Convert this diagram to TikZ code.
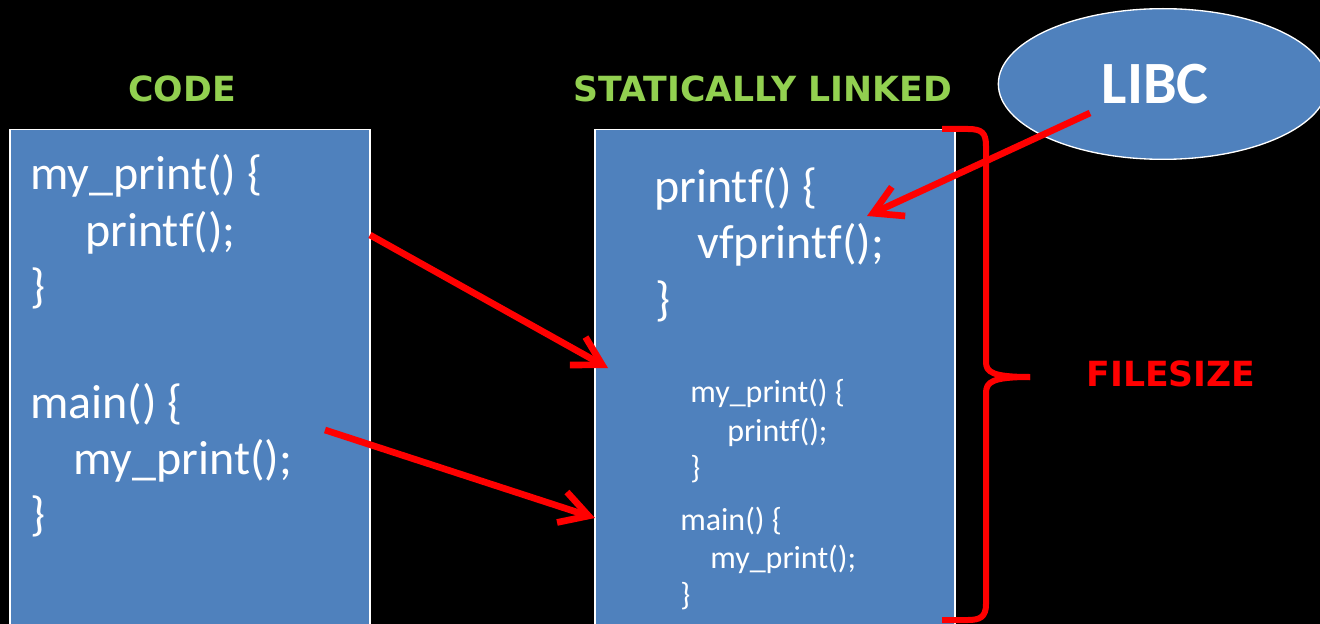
\documentclass[tikz,border=0pt]{standalone}
\usepackage{fontspec}
\setmainfont[Ligatures=NoCommon]{Carlito}
\newfontfamily\hdfont{DejaVu Sans}
\usetikzlibrary{arrows.meta,shapes.geometric}
\definecolor{boxblue}{HTML}{4F81BD}
\definecolor{hdgreen}{HTML}{92D050}
\begin{document}
\begin{tikzpicture}[x=0.75pt,y=-0.75pt,
  codebox/.style={draw=white, line width=1pt, fill=boxblue, minimum width=270pt, minimum height=376pt, inner sep=0},
  bigcode/.style={anchor=base west, text=white, inner sep=0, font=\fontsize{36}{43}\selectfont},
  smallcode/.style={anchor=base west, text=white, inner sep=0, font=\fontsize{24}{29}\selectfont},
  hd/.style={text=hdgreen, inner sep=0, font=\hdfont\bfseries\fontsize{26}{31}\selectfont},
  redarrow/.style={draw=red, line width=5pt, -{Straight Barb[length=21pt,width=24pt,sharp]}},
  bracestyle/.style={draw=red, line width=4.5pt, line cap=butt, line join=round}]
\useasboundingbox (0,0) rectangle (1320,624);
\fill[black] (0,0) rectangle (1320,624);

% headings
\node[hd] (hcode) at (182,89) {CODE};
\node[hd] (hstat) at (763,89) {STATICALLY LINKED};

% boxes
\node[codebox] (leftbox) at (190,380) {};
\node[codebox] (rightbox) at (775,380) {};

% left code
\node[bigcode] (l1) at (30,190) {my\_print() \{};
\node[bigcode] (l2) at (85,246) {printf();};
\node[bigcode] (l3) at (30,302) {\}};
\node[bigcode] (l4) at (30,418) {main() \{};
\node[bigcode] (l5) at (73,474) {my\_print();};
\node[bigcode] (l6) at (30,530) {\}};

% right code (large)
\node[bigcode] (r1) at (654,202) {printf() \{};
\node[bigcode] (r2) at (697,258) {vfprintf();};
\node[bigcode] (r3) at (655,315) {\}};

% right code (small)
\node[smallcode] (s1) at (690,402) {my\_print() \{};
\node[smallcode] (s2) at (727,441) {printf();};
\node[smallcode] (s3) at (690,478) {\}};
\node[smallcode] (s4) at (680,530) {main() \{};
\node[smallcode] (s5) at (710,568) {my\_print();};
\node[smallcode] (s6) at (680,605) {\}};

% LIBC ellipse
\node[ellipse, draw=white, line width=1pt, fill=boxblue, minimum width=247pt, minimum height=113pt, inner sep=0,
      text=white, font=\bfseries\fontsize{45}{54}\selectfont] (libc) at (1163,84) {LIBC\hspace*{12pt}};

% brace
\draw[bracestyle] (942,129) -- (968,129) .. controls (982,129) and (986,133) .. (986,146) -- (986,362)
   .. controls (986,372) and (992,377) .. (1030,377);
\draw[bracestyle] (1030,377) .. controls (992,377) and (986,382) .. (986,393) -- (986,604)
   .. controls (986,617) and (980,620) .. (968,620) -- (942,620);
\node[text=red, inner sep=0, font=\hdfont\bfseries\fontsize{26}{31}\selectfont] (fsize) at (1171,374) {FILESIZE};

% arrows
\coordinate (a1s) at (370,235);
\coordinate (a1e) at (608,368);
\coordinate (a2s) at (325,430);
\coordinate (a2e) at (595,518);
\coordinate (a3s) at (1090,113);
\coordinate (a3e) at (867,216);
\draw[redarrow] (a1s) -- (a1e);
\draw[redarrow] (a2s) -- (a2e);
\draw[redarrow] (a3s) -- (a3e);
\end{tikzpicture}
\end{document}
